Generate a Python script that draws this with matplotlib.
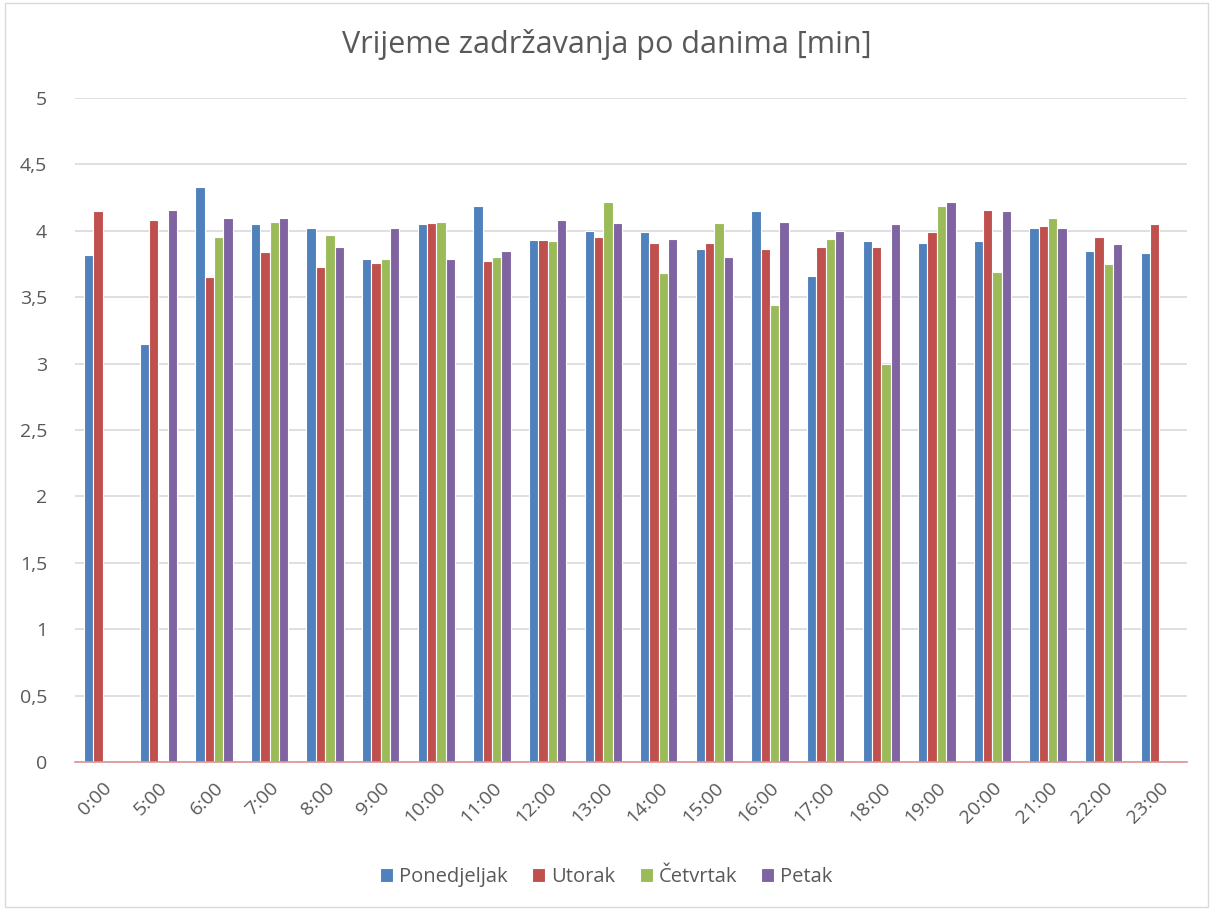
import numpy as np
import matplotlib
matplotlib.use("Agg")
import matplotlib.pyplot as plt
from matplotlib.ticker import FuncFormatter
from matplotlib.patches import Rectangle

hours = ["0:00", "5:00", "6:00", "7:00", "8:00", "9:00", "10:00", "11:00", "12:00", "13:00",
         "14:00", "15:00", "16:00", "17:00", "18:00", "19:00", "20:00", "21:00", "22:00", "23:00"]

ponedjeljak = [3.82, 3.15, 4.33, 4.05, 4.02, 3.79, 4.05, 4.19, 3.93, 4.00,
               3.99, 3.86, 4.15, 3.66, 3.92, 3.91, 3.92, 4.02, 3.85, 3.83]
utorak = [4.15, 4.08, 3.65, 3.84, 3.73, 3.76, 4.06, 3.77, 3.93, 3.95,
          3.91, 3.91, 3.86, 3.88, 3.88, 3.99, 4.16, 4.04, 3.95, 4.05]
cetvrtak = [np.nan, np.nan, 3.95, 4.07, 3.97, 3.79, 4.07, 3.80, 3.92, 4.22,
            3.68, 4.06, 3.44, 3.94, 3.00, 4.19, 3.69, 4.10, 3.75, np.nan]
petak = [np.nan, 4.16, 4.10, 4.10, 3.88, 4.02, 3.79, 3.85, 4.08, 4.06,
         3.94, 3.80, 4.07, 4.00, 4.05, 4.22, 4.15, 4.02, 3.90, np.nan]

series = [("Ponedjeljak", ponedjeljak, "#4F81BD"),
          ("Utorak", utorak, "#C0504D"),
          ("Četvrtak", cetvrtak, "#9BBB59"),
          ("Petak", petak, "#8064A2")]

plt.rcParams["font.family"] = ["Open Sans", "DejaVu Sans"]

fig = plt.figure(figsize=(12.13, 9.10), dpi=100)
ax = fig.add_axes([0.0618, 0.1626, 0.9168, 0.7297])

x = np.arange(len(hours))
w = 0.168
for i, (name, vals, col) in enumerate(series):
    ax.bar(x + (i - 1.5) * w, vals, w, color=col, edgecolor="white", linewidth=0.8,
           label=name, zorder=3)

ax.set_xlim(-0.5, len(hours) - 0.5)
ax.set_ylim(0, 5)
ax.set_yticks(np.arange(0, 5.01, 0.5))
ax.yaxis.set_major_formatter(FuncFormatter(lambda v, p: ("%g" % v).replace(".", ",")))
ax.grid(axis="y", color="#D9D9D9", linewidth=1.2, zorder=0)
for s in ["top", "right", "left"]:
    ax.spines[s].set_visible(False)
ax.spines["bottom"].set_color("#D99594")
ax.spines["bottom"].set_linewidth(1.2)
ax.spines["bottom"].set_zorder(4)

ax.set_xticks(x)
ax.set_xticklabels(hours, rotation=45, ha="right", rotation_mode="anchor")
ax.tick_params(axis="both", length=0, labelsize=14, colors="#595959", pad=12)
ax.tick_params(axis="y", pad=20)

fig.suptitle("Vrijeme zadržavanja po danima [min]", y=0.968, fontsize=22, color="#595959")

fig.legend(loc="center", bbox_to_anchor=(0.5, 0.036), ncol=4, frameon=False,
           fontsize=14.5, labelcolor="#595959", handlelength=0.65, handleheight=0.65,
           handletextpad=0.3, columnspacing=1.2)

fig.patches.append(Rectangle((0.004, 0.003), 0.992, 0.994, transform=fig.transFigure,
                             fill=False, edgecolor="#D9D9D9", linewidth=1))

fig.savefig("out.png", dpi=100)
